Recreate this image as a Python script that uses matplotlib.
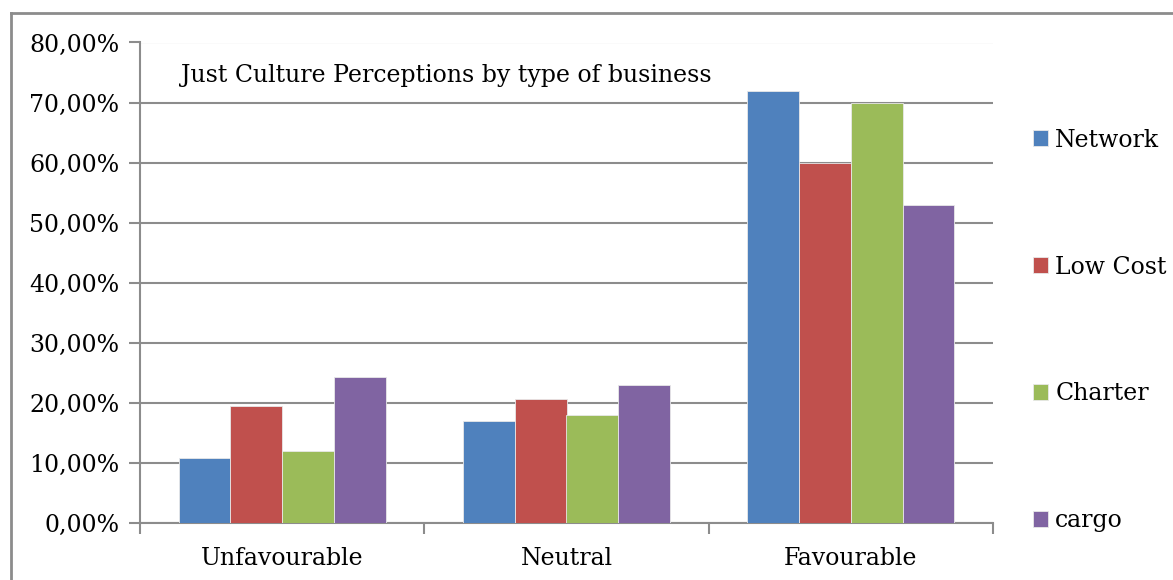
import matplotlib
matplotlib.use("Agg")
import matplotlib.pyplot as plt
import matplotlib.transforms as mtransforms
import numpy as np
from matplotlib.lines import Line2D
from matplotlib.ticker import FuncFormatter

categories = ["Unfavourable", "Neutral", "Favourable"]
series_names = ["Network", "Low Cost", "Charter", "cargo"]
network = [10.9, 17.0, 72.0]
low_cost = [19.5, 20.6, 60.0]
charter = [12.0, 18.0, 70.0]
cargo = [24.3, 22.9, 52.9]
colors = ["#4F81BD", "#C0504D", "#9BBB59", "#8064A2"]
title = "Just Culture Perceptions by type of business"

plt.rcParams['font.family'] = ['DejaVu Serif']
fs = 17

fig = plt.figure(figsize=(11.73, 5.80), dpi=100)
ax = fig.add_axes([140/1173, 1 - 523/580, (993-140)/1173, (523-42.5)/580])

values = [network, low_cost, charter, cargo]
x = np.arange(len(categories))
bw = 1 / 5.5
for i, (name, vals, c) in enumerate(zip(series_names, values, colors)):
    ax.bar(x + (i - 1.5) * bw, vals, width=bw, color=c, label=name,
           edgecolor="#e8e8e8", linewidth=0.6, zorder=3)

ax.set_xlim(-0.5, 2.5)
ax.set_ylim(0, 80)
ax.set_yticks(np.arange(0, 81, 10))
ax.yaxis.set_major_formatter(FuncFormatter(lambda v, p: f"{v:.2f}%".replace(".", ",")))
ax.grid(axis="y", color="#8c8c8c", linewidth=1.5, zorder=0)
ax.set_xticks(x)
ax.set_xticklabels(categories)
ax.set_xticks([-0.5, 0.5, 1.5, 2.5], minor=True)
ax.tick_params(axis="x", which="major", length=0, pad=17, labelsize=fs)
ax.tick_params(axis="x", which="minor", length=8, color="#8c8c8c", width=1.5)
ax.tick_params(axis="y", length=8, color="#8c8c8c", width=1.5, labelsize=fs, pad=7)
for s in ["top", "right"]:
    ax.spines[s].set_visible(False)
for s in ["left", "bottom"]:
    ax.spines[s].set_color("#8c8c8c")
    ax.spines[s].set_linewidth(1.5)

tr = mtransforms.blended_transform_factory(fig.transFigure, ax.transData)
ax.text(181/1173, 74.5, title, transform=tr, fontsize=fs, va="center", ha="left")

ax.legend(loc="center left", bbox_to_anchor=(1021/1173, 1 - 330.5/580), bbox_transform=fig.transFigure,
          frameon=False, fontsize=fs, handlelength=0.65, handleheight=0.65,
          handletextpad=0.3, labelspacing=4.4, borderpad=0)

fig.add_artist(Line2D([11/1173, 1], [1 - 13/580, 1 - 13/580], transform=fig.transFigure,
                      color="#8c8c8c", linewidth=2))
fig.add_artist(Line2D([11/1173, 11/1173], [0, 1 - 13/580], transform=fig.transFigure,
                      color="#8c8c8c", linewidth=2))

fig.savefig("out.png", dpi=100)
